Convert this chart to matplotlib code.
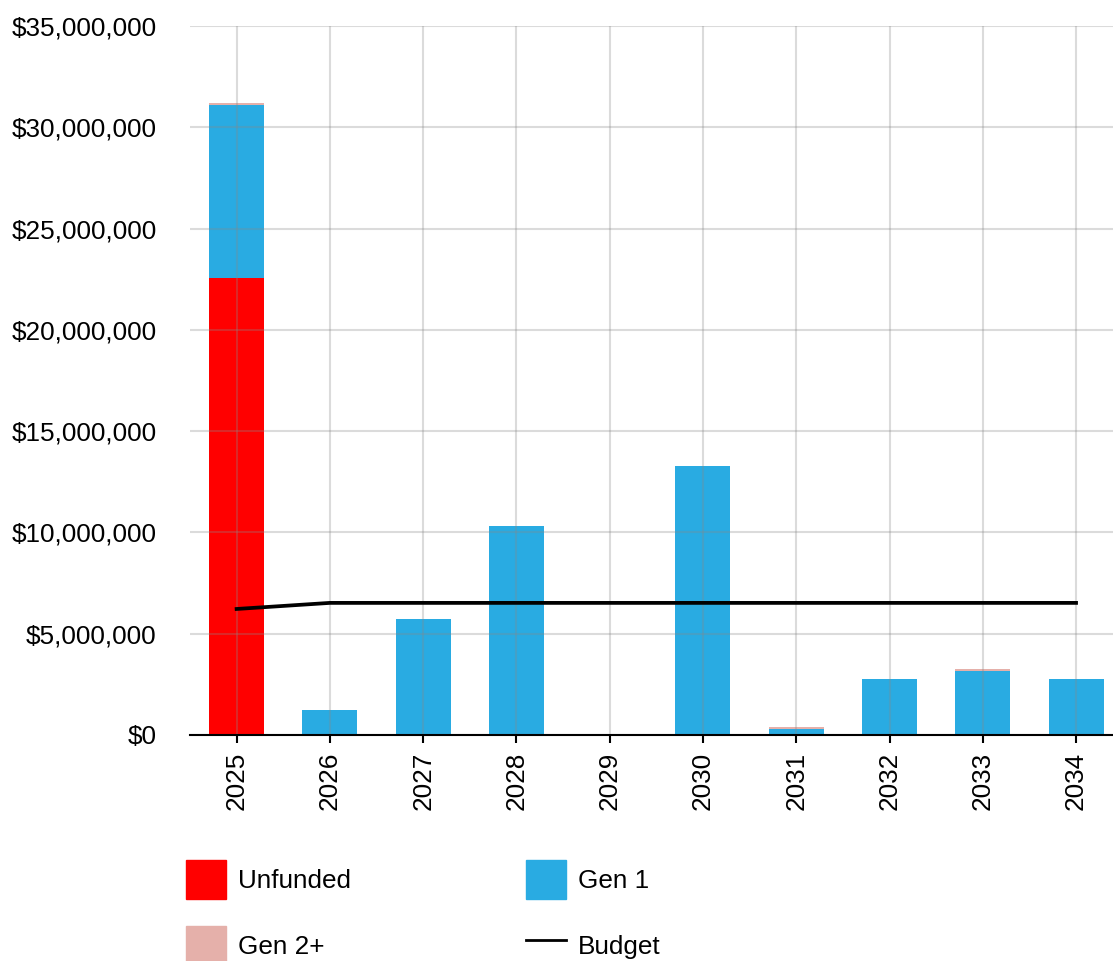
import matplotlib.pyplot as plt
import matplotlib.patches as mpatches
from matplotlib.lines import Line2D
from matplotlib.ticker import FuncFormatter
import numpy as np

plt.rcParams['font.family'] = ['Liberation Sans', 'DejaVu Sans']

# funding by year, stacked: unfunded at the bottom, then gen 1, then gen 2+
years = ["2025", "2026", "2027", "2028", "2029", "2030", "2031", "2032", "2033", "2034"]
unfunded = [22_560_000, 0, 0, 0, 0, 0, 0, 0, 0, 0]
gen1 = [8_540_000, 1_230_000, 5_730_000, 10_320_000, 50_000, 13_280_000, 300_000, 2_760_000, 3_150_000, 2_760_000]
gen2 = [100_000, 0, 0, 0, 0, 0, 100_000, 0, 100_000, 0]
budget = [6_220_000, 6_520_000, 6_520_000, 6_520_000, 6_520_000, 6_520_000, 6_520_000, 6_520_000, 6_520_000, 6_520_000]

RED = "#ff0000"
BLUE = "#29abe2"
PINK = "#e5b0aa"
FS = 18.8

fig = plt.figure(figsize=(11.13, 9.61), dpi=100)
ax = fig.add_axes([0.1707, 0.2352, 0.838, 0.7378])

x = np.arange(len(years))
w = 0.59
unfunded = np.array(unfunded)
gen1 = np.array(gen1)
gen2 = np.array(gen2)

ax.bar(x, unfunded, w, color=RED, zorder=1)
ax.bar(x, gen1, w, bottom=unfunded, color=BLUE, zorder=1)
ax.bar(x, gen2, w, bottom=unfunded + gen1, color=PINK, zorder=1)
ax.plot(x, budget, color="black", lw=2.7, zorder=3)

ax.set_xlim(-0.5, 9.5)
ax.set_ylim(0, 35_000_000)
ax.set_yticks(np.arange(0, 35_000_001, 5_000_000))
ax.yaxis.set_major_formatter(FuncFormatter(lambda v, p: f"${v:,.0f}"))
ax.set_xticks(x)
ax.set_xticklabels(years, rotation=90)

ax.grid(True, color="#888888", alpha=0.3, lw=1.5, zorder=2)
ax.set_axisbelow(False)
for s in ["top", "right", "left"]:
    ax.spines[s].set_visible(False)
ax.spines["bottom"].set_linewidth(1.5)
ax.spines["bottom"].set_zorder(4)
ax.tick_params(axis="y", length=0, pad=24, labelsize=FS)
ax.tick_params(axis="x", length=6, width=1.5, pad=6, labelsize=FS)

handles = [
    mpatches.Patch(color=RED, label="Unfunded"),
    mpatches.Patch(color=PINK, label="Gen 2+"),
    mpatches.Patch(color=BLUE, label="Gen 1"),
    Line2D([], [], color="black", lw=2, label="Budget"),
]
fig.legend(handles=handles, ncol=2, loc="upper left", bbox_to_anchor=(0.167, 0.105),
           frameon=False, fontsize=FS, handlelength=1.53, handleheight=1.9,
           handletextpad=0.46, columnspacing=6.7, labelspacing=1.05, borderaxespad=0,
           borderpad=0)

fig.savefig("out.png", dpi=100)
